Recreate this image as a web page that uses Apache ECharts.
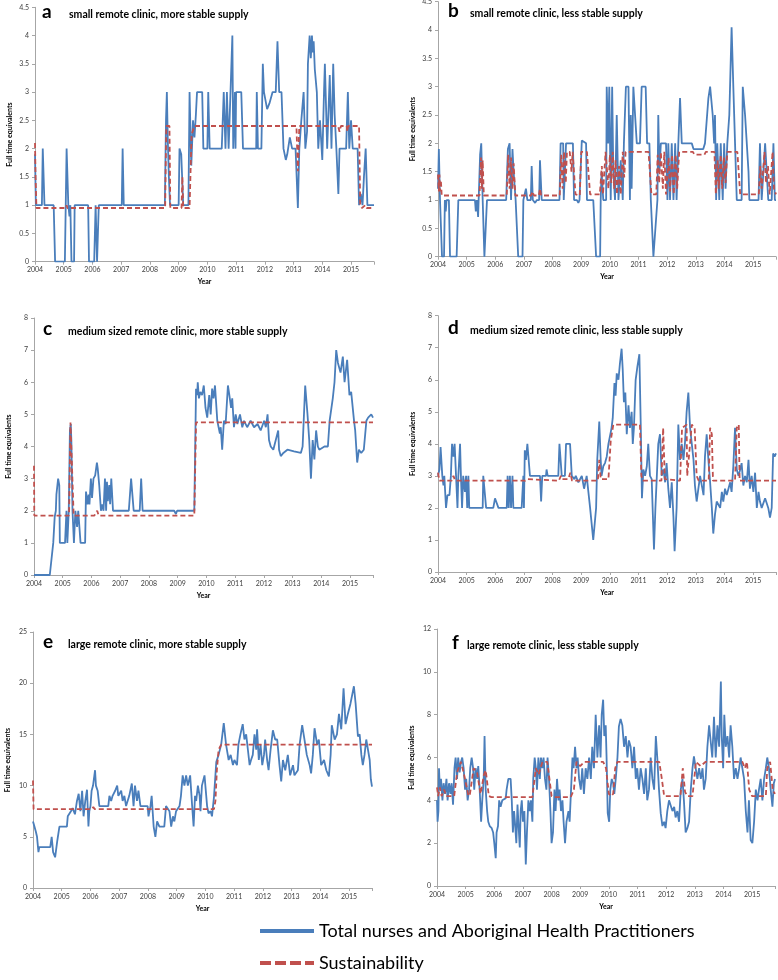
<!DOCTYPE html>
<html><head><meta charset="utf-8">
<script src="https://cdn.jsdelivr.net/npm/echarts@6/dist/echarts.min.js"></script>
<style>html,body{margin:0;padding:0;background:#fff}#c{width:778px;height:980px}</style>
</head><body><div id="c"></div>
<script>
// ---------- DATA (year, full time equivalents) ----------
const years = [2004,2005,2006,2007,2008,2009,2010,2011,2012,2013,2014,2015];
const blueName = 'Total nurses and Aboriginal Health Practitioners';
const redName = 'Sustainability';

const aTitle = 'small remote clinic, more stable supply';
const aBlue = [[2004.0,1.9],[2004.03,1.0],[2004.24,1.0],[2004.27,2.0],[2004.33,1.0],[2004.65,1.0],[2004.7,0],[2005.04,0],[2005.1,2.0],[2005.16,1.0],[2005.2,0.8],[2005.23,1.0],[2005.27,0],[2005.36,0],[2005.38,1.0],[2005.85,1.0],[2005.88,0],[2006.06,0],[2006.11,1.0],[2006.16,0],[2006.22,1.0],[2007.02,1.0],[2007.05,2.0],[2007.09,1.0],[2008.52,1.0],[2008.56,2.5],[2008.59,3.0],[2008.62,2.2],[2008.66,1.5],[2008.7,1.0],[2009.0,1.0],[2009.03,2.0],[2009.09,1.9],[2009.16,1.0],[2009.34,1.0],[2009.38,3.0],[2009.44,1.7],[2009.5,2.5],[2009.55,2.2],[2009.6,2.6],[2009.64,3.0],[2009.82,3.0],[2009.86,2.0],[2010.0,2.0],[2010.03,3.0],[2010.08,2.0],[2010.5,2.0],[2010.57,3.0],[2010.63,2.0],[2010.68,3.0],[2010.74,2.0],[2010.87,4.0],[2010.9,2.0],[2010.96,3.0],[2010.98,2.0],[2011.0,3.0],[2011.18,3.0],[2011.24,2.0],[2011.7,2.0],[2011.72,3.0],[2011.76,2.0],[2011.88,2.0],[2011.93,3.5],[2011.97,3.0],[2012.08,2.7],[2012.16,2.8],[2012.27,3.0],[2012.38,3.0],[2012.44,3.9],[2012.5,3.0],[2012.58,3.0],[2012.65,2.0],[2012.73,1.8],[2012.78,1.9],[2012.87,2.2],[2012.95,2.0],[2013.07,2.0],[2013.15,0.95],[2013.2,2.0],[2013.27,2.5],[2013.35,3.0],[2013.41,2.0],[2013.47,2.3],[2013.5,3.5],[2013.56,4.0],[2013.6,3.6],[2013.64,4.0],[2013.67,3.7],[2013.7,3.9],[2013.74,3.4],[2013.81,3.0],[2013.86,2.0],[2013.92,2.5],[2014.0,1.8],[2014.06,3.0],[2014.09,3.5],[2014.17,2.0],[2014.26,3.3],[2014.32,2.0],[2014.38,3.5],[2014.43,2.6],[2014.49,2.0],[2014.56,1.2],[2014.6,2.0],[2014.83,2.0],[2014.89,3.0],[2014.94,2.0],[2015.0,2.5],[2015.06,2.0],[2015.23,2.0],[2015.28,1.0],[2015.34,1.2],[2015.4,1.0],[2015.45,1.5],[2015.51,2.0],[2015.57,1.0],[2015.8,1.0]];
const aRed = [[2004.0,2.1],[2004.02,1.5],[2004.05,0.95],[2005.08,0.95],[2005.1,1.0],[2005.13,0.95],[2008.53,0.95],[2008.57,2.4],[2008.68,2.4],[2008.71,0.95],[2009.1,0.95],[2009.13,1.5],[2009.16,0.95],[2009.38,0.95],[2009.45,2.25],[2009.55,2.4],[2013.1,2.4],[2013.15,1.6],[2013.2,2.4],[2014.55,2.4],[2014.6,2.3],[2014.65,2.4],[2014.85,2.4],[2014.87,2.3],[2014.9,2.4],[2015.28,2.4],[2015.32,1.0],[2015.38,0.95],[2015.5,1.0],[2015.55,0.95],[2015.8,0.95]];

const bTitle = 'small remote clinic, less stable supply';
const bBlue = [[2004.0,1.2],[2004.03,1.9],[2004.07,1.0],[2004.1,1.0],[2004.14,0],[2004.21,0],[2004.24,1.0],[2004.27,0.8],[2004.3,1.0],[2004.38,1.0],[2004.42,0],[2004.65,0],[2004.71,1.0],[2005.29,1.0],[2005.32,0.8],[2005.36,1.0],[2005.4,0.7],[2005.47,1.8],[2005.51,2.0],[2005.56,1.0],[2005.62,0],[2005.68,0],[2005.71,1.0],[2006.38,1.0],[2006.44,1.9],[2006.5,2.0],[2006.55,1.0],[2006.6,1.9],[2006.64,1.5],[2006.71,1.0],[2006.8,0],[2006.95,0],[2006.98,1.0],[2007.07,1.2],[2007.12,1.0],[2007.24,1.0],[2007.27,1.6],[2007.31,1.0],[2007.39,0.95],[2007.45,1.0],[2007.53,1.0],[2007.56,1.7],[2007.62,1.0],[2008.24,1.0],[2008.28,2.0],[2008.37,2.0],[2008.39,1.0],[2008.43,1.0],[2008.47,2.0],[2008.71,2.0],[2008.75,1.0],[2008.85,1.0],[2008.9,0.95],[2008.94,1.0],[2009.02,2.05],[2009.17,2.0],[2009.2,1.0],[2009.42,1.0],[2009.52,0],[2009.66,0],[2009.68,1.0],[2009.71,1.5],[2009.77,1.0],[2009.87,1.0],[2009.89,3.0],[2009.94,2.0],[2009.98,3.0],[2010.03,1.0],[2010.08,3.0],[2010.12,1.5],[2010.18,1.0],[2010.24,2.5],[2010.3,1.0],[2010.38,1.7],[2010.45,1.0],[2010.49,2.0],[2010.56,3.0],[2010.65,3.0],[2010.7,1.0],[2010.73,2.5],[2010.76,1.2],[2010.82,3.0],[2010.88,3.0],[2010.94,2.0],[2011.05,2.0],[2011.11,3.0],[2011.25,3.0],[2011.3,2.0],[2011.38,2.0],[2011.43,1.0],[2011.52,0],[2011.58,0],[2011.66,1.0],[2011.69,2.5],[2011.73,1.5],[2011.78,2.0],[2011.96,2.0],[2012.01,1.0],[2012.04,2.0],[2012.1,1.0],[2012.16,2.0],[2012.22,1.0],[2012.28,2.0],[2012.33,1.0],[2012.39,2.0],[2012.45,2.8],[2012.51,2.0],[2012.86,2.0],[2012.92,1.9],[2013.26,1.9],[2013.32,2.0],[2013.44,2.8],[2013.5,3.0],[2013.59,2.5],[2013.64,2.0],[2013.67,2.5],[2013.71,1.0],[2013.75,2.0],[2013.82,1.0],[2013.87,2.0],[2013.94,1.0],[2013.99,2.0],[2014.04,1.2],[2014.1,2.0],[2014.17,2.5],[2014.25,4.05],[2014.31,3.0],[2014.37,2.0],[2014.43,1.0],[2014.6,1.0],[2014.64,3.0],[2014.72,2.5],[2014.78,2.0],[2014.84,1.5],[2014.87,1.0],[2015.19,1.0],[2015.24,2.0],[2015.3,1.0],[2015.42,2.0],[2015.48,2.0],[2015.53,1.0],[2015.65,1.0],[2015.71,2.0],[2015.76,1.0],[2015.8,1.0]];
const bRed = [[2004.0,1.45],[2004.03,1.15],[2004.05,1.45],[2004.08,1.15],[2004.1,1.35],[2004.13,1.08],[2005.45,1.08],[2005.5,1.75],[2005.53,1.2],[2005.56,1.7],[2005.6,1.08],[2006.4,1.08],[2006.45,1.8],[2006.5,1.2],[2006.55,1.75],[2006.6,1.2],[2006.64,1.65],[2006.7,1.08],[2007.25,1.08],[2007.3,1.15],[2007.35,1.08],[2007.52,1.08],[2007.56,1.2],[2007.6,1.08],[2008.25,1.08],[2008.3,1.8],[2008.35,1.2],[2008.4,1.85],[2008.46,1.3],[2008.5,1.85],[2008.6,1.85],[2008.66,1.5],[2008.7,1.85],[2008.75,1.85],[2008.8,1.1],[2008.95,1.08],[2009.0,1.85],[2009.2,1.85],[2009.31,1.1],[2009.65,1.1],[2009.72,1.6],[2009.76,1.1],[2009.85,1.85],[2009.9,1.85],[2009.95,1.2],[2010.0,1.8],[2010.05,1.3],[2010.1,1.85],[2010.15,1.2],[2010.2,1.7],[2010.25,1.1],[2010.32,1.6],[2010.38,1.1],[2010.45,1.85],[2010.5,1.4],[2010.55,1.85],[2011.35,1.85],[2011.45,1.1],[2011.62,1.1],[2011.67,1.8],[2011.72,1.3],[2011.78,1.85],[2011.85,1.2],[2011.9,1.85],[2011.96,1.1],[2012.05,1.75],[2012.1,1.15],[2012.17,1.8],[2012.23,1.1],[2012.3,1.8],[2012.35,1.2],[2012.42,1.85],[2012.9,1.85],[2012.95,1.8],[2013.3,1.8],[2013.35,1.85],[2013.65,1.85],[2013.7,1.1],[2013.76,1.7],[2013.8,1.2],[2013.87,1.8],[2013.92,1.2],[2013.98,1.75],[2014.04,1.3],[2014.1,1.85],[2014.45,1.85],[2014.55,1.1],[2015.2,1.1],[2015.25,1.6],[2015.3,1.2],[2015.4,1.85],[2015.45,1.3],[2015.52,1.6],[2015.58,1.1],[2015.68,1.85],[2015.73,1.2],[2015.8,1.1]];

const cTitle = 'medium sized remote clinic, more stable supply';
const cBlue = [[2004.0,0],[2004.55,0],[2004.67,1.0],[2004.72,1.8],[2004.76,2.0],[2004.78,2.5],[2004.84,3.0],[2004.88,2.8],[2004.9,1.0],[2004.96,0.95],[2005.08,1.0],[2005.13,2.0],[2005.16,1.0],[2005.21,2.0],[2005.25,4.5],[2005.28,4.7],[2005.3,4.2],[2005.34,2.0],[2005.39,1.0],[2005.44,2.0],[2005.5,1.5],[2005.54,2.0],[2005.62,1.0],[2005.78,1.0],[2005.81,2.6],[2005.86,2.2],[2005.9,2.5],[2005.93,2.2],[2005.98,3.0],[2006.02,2.4],[2006.07,3.0],[2006.13,3.1],[2006.19,3.5],[2006.22,3.3],[2006.27,2.8],[2006.33,2.0],[2006.37,2.2],[2006.42,2.0],[2006.47,3.0],[2006.51,2.0],[2006.54,2.9],[2006.57,2.3],[2006.62,2.8],[2006.65,2.2],[2006.69,3.0],[2006.75,2.0],[2007.3,2.0],[2007.38,3.0],[2007.44,3.0],[2007.47,2.0],[2007.68,2.0],[2007.73,3.0],[2007.78,2.0],[2008.88,2.0],[2008.94,1.9],[2008.98,2.0],[2009.58,2.0],[2009.64,5.8],[2009.68,5.6],[2009.7,6.0],[2009.74,5.5],[2009.79,5.7],[2009.85,5.6],[2009.91,5.9],[2009.97,5.2],[2010.03,4.9],[2010.1,5.6],[2010.15,5.0],[2010.2,5.8],[2010.25,5.5],[2010.3,5.9],[2010.38,4.8],[2010.47,4.4],[2010.5,4.6],[2010.55,3.9],[2010.61,4.8],[2010.67,4.7],[2010.75,5.9],[2010.8,5.6],[2010.86,5.2],[2010.9,5.5],[2010.96,4.6],[2011.02,5.0],[2011.08,4.7],[2011.17,5.0],[2011.25,4.6],[2011.31,4.8],[2011.42,4.6],[2011.54,4.8],[2011.66,4.6],[2011.78,4.7],[2011.89,4.5],[2012.01,4.8],[2012.07,4.6],[2012.13,5.0],[2012.18,4.2],[2012.24,4.0],[2012.33,3.9],[2012.5,4.5],[2012.53,3.9],[2012.59,3.7],[2012.68,3.8],[2012.82,3.9],[2013.05,3.85],[2013.29,3.8],[2013.35,4.0],[2013.44,5.9],[2013.52,5.0],[2013.58,4.2],[2013.64,3.0],[2013.7,4.2],[2013.76,3.6],[2013.82,4.5],[2013.88,4.0],[2013.93,3.9],[2014.11,4.0],[2014.23,4.0],[2014.29,4.8],[2014.4,5.5],[2014.46,6.0],[2014.52,7.0],[2014.58,6.6],[2014.67,6.3],[2014.75,6.8],[2014.81,6.0],[2014.9,6.7],[2014.98,5.6],[2015.04,5.7],[2015.14,4.8],[2015.18,4.5],[2015.25,3.5],[2015.31,3.9],[2015.39,3.8],[2015.48,3.9],[2015.57,4.8],[2015.63,4.9],[2015.74,5.0],[2015.8,4.9]];
const cRed = [[2004.0,3.4],[2004.01,1.85],[2005.22,1.85],[2005.27,4.75],[2005.33,4.75],[2005.38,1.85],[2006.1,1.85],[2006.2,2.0],[2006.25,1.85],[2009.58,1.85],[2009.64,4.75],[2015.8,4.75]];

const dTitle = 'medium sized remote clinic, less stable supply';
const dBlue = [[2004.0,3.0],[2004.05,3.2],[2004.09,3.9],[2004.15,3.0],[2004.19,2.7],[2004.22,3.0],[2004.28,2.0],[2004.33,2.4],[2004.4,2.4],[2004.45,3.0],[2004.49,4.0],[2004.54,3.6],[2004.58,4.0],[2004.63,3.0],[2004.68,2.0],[2004.71,3.0],[2004.77,4.0],[2004.8,3.0],[2004.84,2.0],[2004.88,3.0],[2004.94,2.5],[2004.98,3.0],[2005.02,2.0],[2005.06,3.0],[2005.09,2.0],[2005.56,2.0],[2005.58,3.0],[2005.64,3.0],[2005.68,2.0],[2005.93,2.0],[2005.99,2.3],[2006.05,2.3],[2006.11,2.0],[2006.4,2.0],[2006.43,3.0],[2006.47,2.0],[2006.51,3.0],[2006.55,2.0],[2006.6,3.0],[2006.63,2.0],[2006.92,2.0],[2006.98,3.0],[2007.0,2.0],[2007.03,3.8],[2007.07,3.5],[2007.12,4.0],[2007.17,4.0],[2007.21,3.0],[2007.56,3.0],[2007.6,2.2],[2007.64,3.0],[2007.77,3.0],[2007.79,3.2],[2007.83,3.0],[2008.2,3.0],[2008.24,4.0],[2008.28,4.0],[2008.32,3.0],[2008.43,3.0],[2008.47,4.0],[2008.61,4.0],[2008.67,3.0],[2008.76,2.9],[2008.81,3.0],[2008.9,2.8],[2009.02,3.0],[2009.07,3.0],[2009.1,2.6],[2009.19,3.0],[2009.31,2.0],[2009.42,1.0],[2009.48,1.0],[2009.52,2.0],[2009.56,3.5],[2009.63,4.7],[2009.68,3.5],[2009.71,3.0],[2009.77,3.3],[2009.83,3.4],[2009.89,3.6],[2009.95,4.0],[2010.01,4.0],[2010.06,4.5],[2010.1,4.8],[2010.16,5.9],[2010.2,5.5],[2010.24,6.2],[2010.3,6.0],[2010.35,6.5],[2010.41,6.97],[2010.45,6.3],[2010.49,5.3],[2010.54,5.6],[2010.59,4.3],[2010.65,5.2],[2010.7,4.5],[2010.76,5.0],[2010.8,4.0],[2010.84,4.5],[2010.9,6.0],[2010.96,6.4],[2011.03,6.8],[2011.08,4.5],[2011.12,2.3],[2011.17,3.2],[2011.23,3.0],[2011.29,3.3],[2011.34,4.0],[2011.4,3.0],[2011.46,2.9],[2011.5,1.8],[2011.54,0.7],[2011.59,2.0],[2011.64,3.0],[2011.69,4.0],[2011.75,4.3],[2011.81,3.0],[2011.87,3.2],[2011.93,2.8],[2011.98,3.4],[2012.04,2.6],[2012.1,2.0],[2012.16,2.8],[2012.22,1.7],[2012.26,0.65],[2012.33,2.0],[2012.39,4.6],[2012.45,3.5],[2012.51,4.0],[2012.57,3.5],[2012.62,4.0],[2012.68,5.0],[2012.74,5.6],[2012.8,4.5],[2012.86,4.0],[2012.92,3.5],[2012.97,2.7],[2013.03,2.2],[2013.09,2.6],[2013.15,3.0],[2013.27,2.4],[2013.32,3.6],[2013.38,4.3],[2013.44,3.5],[2013.5,2.8],[2013.56,2.0],[2013.61,1.2],[2013.67,1.8],[2013.73,2.2],[2013.85,2.0],[2013.91,2.5],[2013.96,2.2],[2014.02,2.6],[2014.08,2.4],[2014.2,2.8],[2014.25,2.5],[2014.31,3.3],[2014.37,4.5],[2014.43,3.2],[2014.49,3.0],[2014.55,3.2],[2014.6,3.4],[2014.66,2.7],[2014.72,3.0],[2014.78,2.8],[2014.84,3.5],[2014.89,2.6],[2014.95,3.0],[2015.01,2.5],[2015.07,3.1],[2015.13,2.0],[2015.19,2.5],[2015.24,2.2],[2015.3,2.0],[2015.42,2.3],[2015.53,2.0],[2015.59,1.7],[2015.65,2.0],[2015.7,3.7],[2015.75,3.6],[2015.8,3.7]];
const dRed = [[2004.0,3.1],[2004.05,2.85],[2004.48,2.85],[2004.54,3.0],[2004.6,2.85],[2007.05,2.85],[2007.12,2.9],[2007.18,2.85],[2008.22,2.85],[2008.29,3.0],[2008.33,2.9],[2008.55,2.9],[2008.62,3.1],[2008.68,2.85],[2009.58,2.85],[2009.63,3.5],[2009.68,2.9],[2009.95,2.9],[2010.03,4.1],[2010.12,4.6],[2011.05,4.6],[2011.1,3.0],[2011.16,2.85],[2011.8,2.85],[2011.86,4.5],[2011.92,2.9],[2012.45,2.85],[2012.52,4.5],[2012.68,4.6],[2012.7,3.0],[2012.74,3.0],[2012.86,4.6],[2012.96,4.5],[2013.03,3.0],[2013.1,2.85],[2013.45,2.85],[2013.5,4.5],[2013.56,4.3],[2013.6,2.85],[2014.37,2.85],[2014.43,4.5],[2014.5,4.6],[2014.53,2.85],[2015.8,2.85]];

const eTitle = 'large remote clinic, more stable supply';
const eBlue = [[2004.0,6.5],[2004.05,6.0],[2004.1,5.5],[2004.14,5.0],[2004.19,3.5],[2004.22,4.0],[2004.6,4.0],[2004.65,5.0],[2004.7,3.5],[2004.77,3.0],[2004.84,4.5],[2004.92,6.0],[2005.18,6.0],[2005.21,7.0],[2005.32,7.5],[2005.38,7.8],[2005.46,7.2],[2005.53,8.5],[2005.59,9.2],[2005.65,7.5],[2005.71,9.5],[2005.76,7.0],[2005.82,8.5],[2005.88,9.6],[2005.93,6.0],[2005.96,7.5],[2006.0,8.0],[2006.04,9.5],[2006.09,10.0],[2006.16,11.5],[2006.19,10.0],[2006.25,9.5],[2006.31,8.0],[2006.62,8.0],[2006.66,9.0],[2006.72,8.5],[2006.77,9.0],[2006.86,9.5],[2006.93,10.0],[2006.97,9.0],[2007.07,9.5],[2007.12,8.5],[2007.18,9.0],[2007.24,8.0],[2007.35,9.0],[2007.44,10.2],[2007.5,8.0],[2007.55,10.0],[2007.62,8.5],[2007.67,9.5],[2007.74,8.0],[2007.99,8.0],[2008.02,7.0],[2008.09,8.0],[2008.13,9.0],[2008.2,6.0],[2008.26,5.0],[2008.32,6.5],[2008.4,6.0],[2008.57,6.0],[2008.63,8.0],[2008.75,7.5],[2008.81,6.0],[2008.87,7.0],[2008.92,6.5],[2008.98,7.5],[2009.1,8.0],[2009.15,9.0],[2009.21,11.0],[2009.27,10.0],[2009.33,11.0],[2009.39,10.0],[2009.47,11.0],[2009.54,8.0],[2009.59,6.0],[2009.64,9.0],[2009.68,8.5],[2009.74,10.0],[2009.8,9.0],[2009.83,7.5],[2009.88,10.0],[2009.97,11.0],[2010.03,9.0],[2010.06,8.0],[2010.11,7.3],[2010.18,7.5],[2010.23,7.0],[2010.3,8.9],[2010.38,12.3],[2010.46,13.0],[2010.55,14.0],[2010.64,16.1],[2010.72,14.0],[2010.81,12.5],[2010.88,13.0],[2010.96,12.0],[2011.01,12.5],[2011.1,12.0],[2011.15,14.0],[2011.22,15.0],[2011.3,16.0],[2011.36,14.5],[2011.42,15.0],[2011.48,13.5],[2011.54,12.0],[2011.59,12.5],[2011.65,13.0],[2011.71,15.0],[2011.77,13.5],[2011.8,15.5],[2011.86,12.5],[2011.92,14.0],[2011.98,12.0],[2012.04,13.0],[2012.08,14.5],[2012.15,12.5],[2012.2,11.5],[2012.27,13.5],[2012.35,15.4],[2012.43,14.5],[2012.5,14.5],[2012.58,12.0],[2012.64,10.4],[2012.7,12.5],[2012.78,11.5],[2012.87,13.0],[2012.95,11.0],[2013.05,12.0],[2013.1,11.0],[2013.22,11.5],[2013.28,14.0],[2013.37,15.9],[2013.45,14.5],[2013.53,13.0],[2013.63,12.0],[2013.68,11.2],[2013.74,13.0],[2013.8,15.6],[2013.89,14.0],[2013.95,14.5],[2014.03,12.0],[2014.13,12.5],[2014.21,11.5],[2014.3,10.9],[2014.36,13.0],[2014.4,15.9],[2014.5,14.5],[2014.58,15.0],[2014.65,17.0],[2014.73,15.5],[2014.81,19.5],[2014.88,16.0],[2014.96,17.0],[2015.05,18.0],[2015.17,19.7],[2015.23,18.0],[2015.28,16.0],[2015.31,14.8],[2015.37,15.0],[2015.43,13.0],[2015.48,12.0],[2015.54,13.0],[2015.6,14.5],[2015.66,13.5],[2015.72,12.5],[2015.76,10.6],[2015.8,9.9]];
const eRed = [[2004.0,10.5],[2004.02,7.7],[2006.05,7.7],[2006.1,7.9],[2006.15,7.7],[2010.3,7.7],[2010.35,8.5],[2010.4,11.5],[2010.46,13.5],[2010.55,14.0],[2015.8,14.0]];

const fTitle = 'large remote clinic, less stable supply';
const fBlue = [[2004.0,4.0],[2004.02,3.0],[2004.05,3.5],[2004.07,5.5],[2004.1,4.5],[2004.14,5.0],[2004.19,4.0],[2004.23,4.8],[2004.28,4.3],[2004.33,5.0],[2004.37,4.0],[2004.42,4.8],[2004.47,4.3],[2004.51,4.8],[2004.56,3.8],[2004.61,5.5],[2004.65,6.0],[2004.7,5.0],[2004.74,6.0],[2004.79,5.3],[2004.84,5.8],[2004.88,6.0],[2004.93,5.5],[2004.98,4.5],[2005.02,5.0],[2005.07,4.0],[2005.12,4.5],[2005.16,5.5],[2005.21,6.0],[2005.26,5.5],[2005.3,4.5],[2005.35,5.5],[2005.4,5.0],[2005.44,5.6],[2005.49,4.5],[2005.54,3.0],[2005.58,4.0],[2005.63,5.0],[2005.66,7.0],[2005.7,4.5],[2005.75,3.5],[2005.79,3.0],[2005.84,2.8],[2005.91,2.7],[2005.96,2.5],[2006.0,2.0],[2006.05,1.3],[2006.08,2.5],[2006.13,2.8],[2006.17,4.0],[2006.22,3.7],[2006.28,4.0],[2006.4,4.1],[2006.43,4.5],[2006.49,5.0],[2006.57,5.0],[2006.61,4.0],[2006.65,2.5],[2006.69,3.5],[2006.72,3.0],[2006.77,2.0],[2006.81,3.8],[2006.84,3.0],[2006.89,1.8],[2006.92,3.5],[2006.96,4.0],[2007.0,3.0],[2007.05,3.5],[2007.1,1.0],[2007.14,2.5],[2007.19,4.0],[2007.24,3.5],[2007.28,4.0],[2007.33,3.0],[2007.36,5.0],[2007.41,6.0],[2007.45,5.5],[2007.49,4.5],[2007.54,6.0],[2007.59,5.0],[2007.63,6.0],[2007.68,5.5],[2007.72,6.0],[2007.77,5.0],[2007.82,4.5],[2007.86,6.0],[2007.91,5.0],[2007.96,3.5],[2008.0,2.0],[2008.05,2.5],[2008.1,4.5],[2008.14,3.5],[2008.19,5.0],[2008.24,4.0],[2008.28,4.5],[2008.33,3.5],[2008.38,4.0],[2008.42,3.0],[2008.47,2.0],[2008.52,3.0],[2008.59,3.5],[2008.63,3.0],[2008.68,4.5],[2008.73,6.0],[2008.77,5.5],[2008.82,6.5],[2008.87,5.5],[2008.91,6.0],[2008.96,5.0],[2009.02,4.5],[2009.07,5.5],[2009.13,4.3],[2009.19,5.5],[2009.25,5.0],[2009.31,6.0],[2009.37,5.0],[2009.42,6.5],[2009.48,5.5],[2009.54,8.0],[2009.6,6.0],[2009.66,7.5],[2009.71,6.0],[2009.75,8.0],[2009.8,8.7],[2009.84,7.0],[2009.89,7.5],[2009.92,6.0],[2009.96,3.4],[2010.01,3.0],[2010.05,4.5],[2010.1,5.0],[2010.15,4.8],[2010.19,4.3],[2010.24,5.0],[2010.3,6.0],[2010.35,7.45],[2010.41,7.8],[2010.47,7.5],[2010.53,6.5],[2010.59,7.0],[2010.65,6.0],[2010.7,6.8],[2010.76,6.5],[2010.82,5.5],[2010.88,6.5],[2010.94,5.0],[2010.99,5.5],[2011.05,4.5],[2011.11,5.5],[2011.17,5.0],[2011.23,4.3],[2011.29,5.5],[2011.34,4.0],[2011.4,4.5],[2011.46,6.0],[2011.52,5.0],[2011.58,4.5],[2011.64,7.0],[2011.69,6.0],[2011.75,4.5],[2011.81,3.4],[2011.87,2.8],[2011.93,3.0],[2011.98,2.7],[2012.04,3.5],[2012.1,4.0],[2012.16,4.0],[2012.22,3.5],[2012.28,3.7],[2012.33,3.2],[2012.39,3.5],[2012.45,3.0],[2012.51,4.5],[2012.57,5.0],[2012.62,4.0],[2012.68,2.5],[2012.74,2.7],[2012.8,3.0],[2012.86,4.5],[2012.92,5.5],[2012.97,6.05],[2013.03,5.5],[2013.09,5.0],[2013.15,5.5],[2013.21,5.0],[2013.27,5.5],[2013.32,4.5],[2013.38,5.0],[2013.44,6.5],[2013.5,7.5],[2013.56,7.5],[2013.61,6.0],[2013.67,7.9],[2013.73,6.0],[2013.79,7.5],[2013.85,6.5],[2013.91,9.55],[2013.94,7.0],[2013.99,5.5],[2014.03,8.0],[2014.08,6.5],[2014.14,7.0],[2014.2,6.0],[2014.25,7.5],[2014.31,6.5],[2014.37,5.0],[2014.43,5.5],[2014.49,5.0],[2014.55,5.5],[2014.6,6.0],[2014.66,5.5],[2014.72,5.0],[2014.78,3.5],[2014.84,2.5],[2014.89,4.0],[2014.95,2.15],[2015.01,2.0],[2015.07,3.0],[2015.13,4.5],[2015.19,4.0],[2015.24,4.5],[2015.3,5.0],[2015.36,4.0],[2015.42,5.0],[2015.48,5.5],[2015.53,6.0],[2015.59,5.5],[2015.65,4.5],[2015.71,3.7],[2015.76,4.8],[2015.8,5.0]];
const fRed = [[2004.0,4.6],[2004.04,4.2],[2004.1,4.6],[2004.16,4.2],[2004.25,4.5],[2004.32,4.2],[2004.6,4.2],[2004.7,5.3],[2004.83,5.8],[2004.93,5.3],[2005.1,4.2],[2005.15,4.3],[2005.28,5.5],[2005.4,5.3],[2005.52,4.3],[2005.64,5.2],[2005.7,5.4],[2005.81,4.2],[2005.9,4.15],[2007.33,4.15],[2007.45,5.5],[2007.55,5.2],[2007.68,5.8],[2007.85,5.8],[2008.0,4.2],[2008.1,4.15],[2008.67,4.15],[2008.78,4.5],[2008.87,5.8],[2009.0,5.6],[2009.15,5.8],[2009.8,5.8],[2009.9,5.5],[2010.0,4.3],[2010.07,4.2],[2010.15,4.3],[2010.22,5.5],[2010.3,5.8],[2011.76,5.8],[2011.85,5.0],[2011.93,4.2],[2012.5,4.2],[2012.58,5.5],[2012.66,4.4],[2012.73,4.2],[2012.92,4.2],[2013.04,5.8],[2013.2,5.6],[2013.38,5.8],[2014.66,5.8],[2014.75,5.5],[2014.82,5.8],[2014.9,4.5],[2015.0,4.2],[2015.48,4.2],[2015.53,5.5],[2015.63,5.8],[2015.72,4.5],[2015.8,4.3]];

// y axis settings per panel (max, step)
const yMaxes = [4.5, 4.5, 8, 8, 25, 12];
const ySteps = [0.5, 0.5, 1, 1, 5, 2];
const letters = ['a','b','c','d','e','f'];
const titles = [aTitle, bTitle, cTitle, dTitle, eTitle, fTitle];
const blues = [aBlue, bBlue, cBlue, dBlue, eBlue, fBlue];
const reds = [aRed, bRed, cRed, dRed, eRed, fRed];

// ---------- LAYOUT ----------
const grids = [
  {left:35, top:7.3, width:339, height:254.4},
  {left:438, top:1.7, width:338, height:255},
  {left:34, top:318, width:339, height:257},
  {left:438, top:315.7, width:338, height:256.3},
  {left:33, top:632, width:339, height:256},
  {left:437, top:629, width:338, height:257}
];
const titlePos = [
  {lx:42, tx:69, base:19},
  {lx:448, tx:470, base:18},
  {lx:43, tx:68, base:335.5},
  {lx:448, tx:470, base:335},
  {lx:43, tx:68, base:649},
  {lx:452, tx:467, base:650}
];

const BLUE = '#4A7EBB', RED = '#C0504D';
const FONT = 'Lato, "Open Sans", sans-serif';

const option = {
  animation: false,
  backgroundColor: '#ffffff',
  grid: grids.map(g => Object.assign({containLabel:false, outerBoundsMode:'none'}, g)),
  xAxis: grids.map((g, i) => ({
    type: 'value', gridIndex: i, min: years[0], max: 2015.8, interval: 1,
    axisLine: {show:true, onZero:false, lineStyle:{color:'#A6A6A6', width:1}},
    axisTick: {show:true, length:3, lineStyle:{color:'#A6A6A6'}},
    axisLabel: {fontSize:7, color:'#404040', margin:5, fontFamily:FONT,
      formatter: v => (Math.abs(v - Math.round(v)) < 1e-6 && years.indexOf(Math.round(v)) >= 0) ? String(Math.round(v)) : ''},
    splitLine: {show:false},
    name: 'Year', nameLocation: 'middle', nameGap: 17,
    nameTextStyle: {fontSize:7, fontWeight:'bold', color:'#000', fontFamily:FONT}
  })),
  yAxis: grids.map((g, i) => ({
    type: 'value', gridIndex: i, min: 0, max: yMaxes[i], interval: ySteps[i],
    axisLine: {show:true, lineStyle:{color:'#A6A6A6', width:1}},
    axisTick: {show:true, length:3, lineStyle:{color:'#A6A6A6'}},
    axisLabel: {fontSize:7, color:'#404040', margin:6, fontFamily:FONT},
    splitLine: {show:false},
    name: 'Full time equivalents', nameLocation: 'middle', nameRotate: 90, nameGap: 22,
    nameTextStyle: {fontSize:7, fontWeight:'bold', color:'#000', fontFamily:FONT}
  })),
  legend: {
    orient: 'vertical', left: 258, top: 922, padding: 0, itemWidth: 54, itemHeight: 14, itemGap: 14,
    textStyle: {fontSize: 18, color: '#000', fontFamily: FONT},
    itemStyle: {opacity: 0},
    lineStyle: {width: 4},
    data: [
      {name: blueName, itemStyle: {opacity: 0}, lineStyle: {width: 4, type: 'solid'}},
      {name: redName, itemStyle: {opacity: 0}, lineStyle: {width: 4, type: [11, 4]}}
    ]
  },
  series: [],
  graphic: []
};

for (let i = 0; i < 6; i++) {
  option.series.push({
    name: blueName, type: 'line', xAxisIndex: i, yAxisIndex: i, data: blues[i],
    symbol: 'none', smooth: false, sampling: null,
    lineStyle: {color: BLUE, width: 1.8}, itemStyle: {color: BLUE}, z: 2
  });
  option.series.push({
    name: redName, type: 'line', xAxisIndex: i, yAxisIndex: i, data: reds[i],
    symbol: 'none', smooth: false,
    lineStyle: {color: RED, width: 1.8, type: [5, 3]}, itemStyle: {color: RED}, z: 3
  });
  const tp = titlePos[i];
  option.graphic.push({type:'text', x: tp.lx, y: tp.base - 7, z: 100,
    style:{text: letters[i], font: 'bold 19px ' + FONT, fill:'#000', verticalAlign:'middle'}});
  option.graphic.push({type:'text', x: tp.tx, y: tp.base - 4, z: 100,
    style:{text: titles[i], font: 'bold 10.5px ' + FONT, fill:'#000', verticalAlign:'middle'}});
}

const chart = echarts.init(document.getElementById('c'), null, {renderer:'canvas', width:778, height:980});
chart.setOption(option);
</script>
</body></html>
